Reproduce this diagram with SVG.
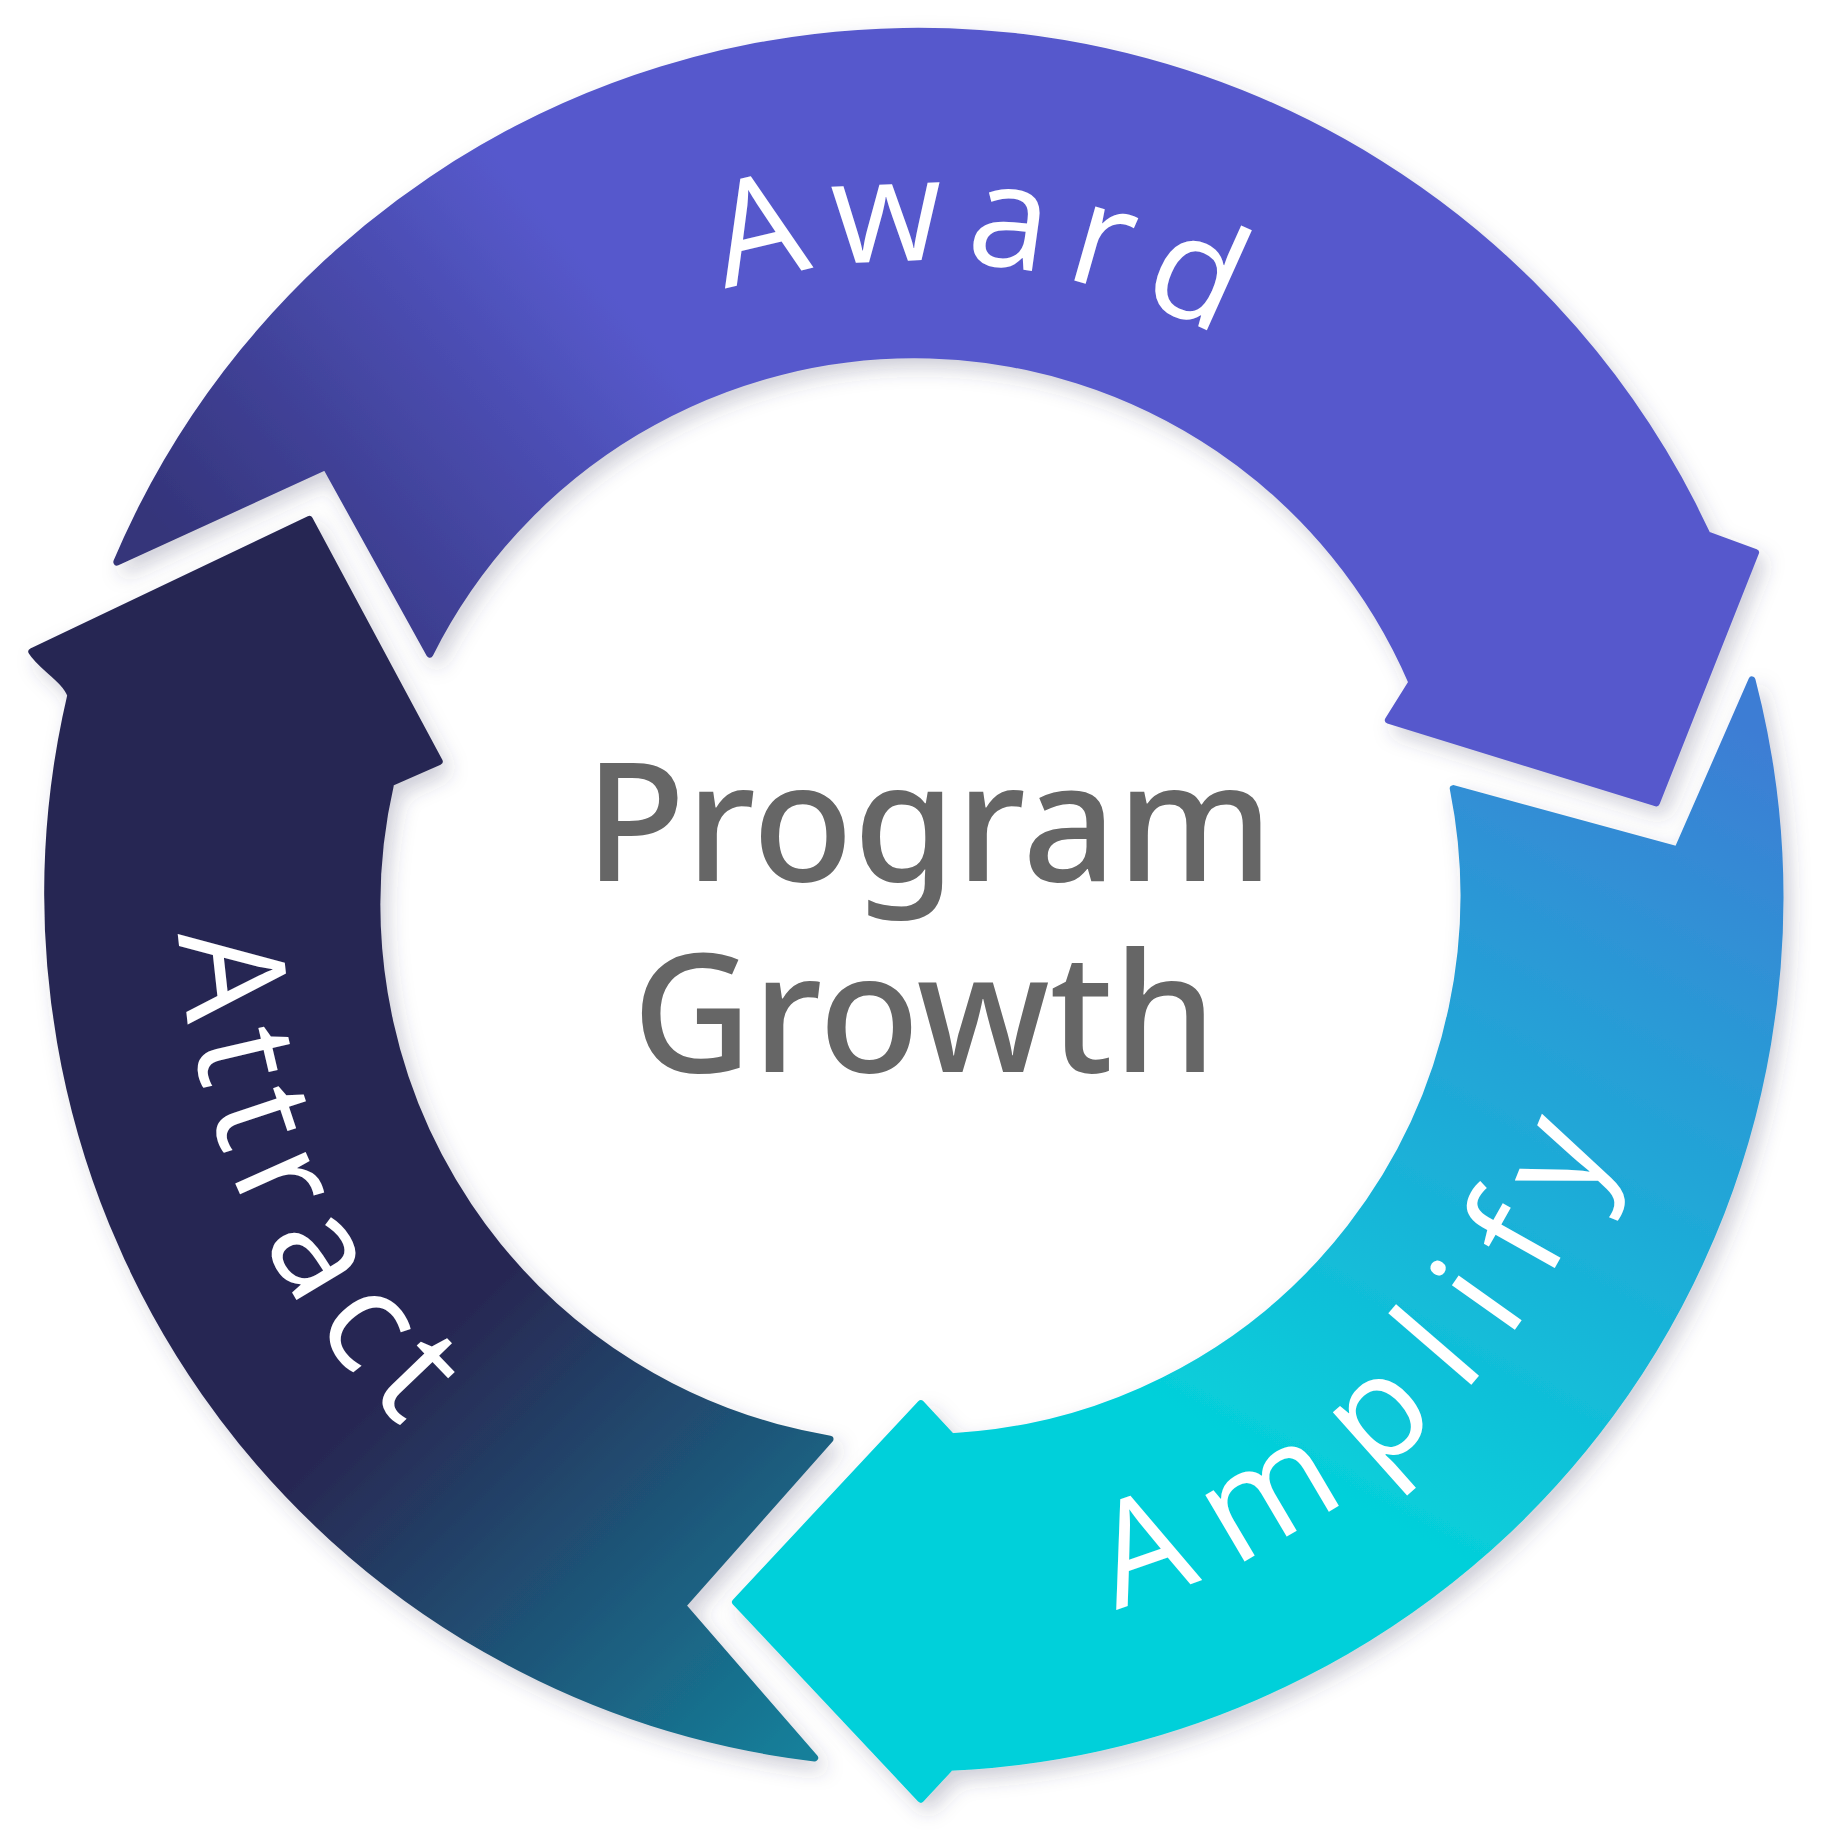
<svg xmlns="http://www.w3.org/2000/svg" width="1824" height="1842" viewBox="0 0 1824 1842">
<defs>
<filter id="sh" x="-10%" y="-10%" width="120%" height="120%"><feDropShadow dx="6" dy="8" stdDeviation="8" flood-color="#3a3a60" flood-opacity="0.25"/></filter>
<linearGradient id="gAward" gradientUnits="userSpaceOnUse" x1="200" y1="520" x2="520" y2="250"><stop offset="0" stop-color="#34347A"/><stop offset="1" stop-color="#5659CC"/></linearGradient>
<linearGradient id="gAmp" gradientUnits="userSpaceOnUse" x1="1450" y1="600" x2="1100" y2="1250"><stop offset="0" stop-color="#3D7DD4"/><stop offset="1" stop-color="#05D0DA"/></linearGradient>
<linearGradient id="gAtt" gradientUnits="userSpaceOnUse" x1="380" y1="1130" x2="700" y2="1460"><stop offset="0" stop-color="#282853"/><stop offset="1" stop-color="#157F9A"/></linearGradient>
<path id="pTop" d="M236,761 A540,540 0 0 1 1316,761"/>
<path id="pBot" d="M151,761 A625,625 0 0 0 1401,761"/>
<style>
.lbl{font-family:"Open Sans","Noto Sans",sans-serif;font-size:122px;fill:#fff;font-weight:500}
.ctr{font-family:"Noto Sans","Open Sans",sans-serif;font-size:140px;fill:#666;font-weight:500;text-anchor:middle}
</style>
</defs>
<g transform="scale(1.18058)">
<g id="award" filter="url(#sh)">
<path fill="url(#gAward)" stroke="url(#gAward)" stroke-width="6" stroke-linejoin="round" d="M99,476 A737,737 0 0 1 1446,453 L1487,468 L1403,680 L1176,610 L1196,578 A459,459 0 0 0 364,554 L276,395 Z"/>
<text class="lbl"><textPath href="#pTop" startOffset="53%" text-anchor="middle" textLength="430" lengthAdjust="spacing">Award</textPath></text>
</g>
<g id="amplify" filter="url(#sh)">
<path fill="url(#gAmp)" stroke="url(#gAmp)" stroke-width="6" stroke-linejoin="round" d="M1484,576 A737,737 0 0 1 805,1497 L780,1524 L623,1357 L780,1189 L806,1217 A459,459 0 0 0 1231,668 L1421,720 Z"/>
<text class="lbl"><textPath href="#pBot" startOffset="74%" text-anchor="middle" textLength="600" lengthAdjust="spacing">Amplify</textPath></text>
</g>
<g id="attract" filter="url(#sh)">
<path fill="url(#gAtt)" stroke="url(#gAtt)" stroke-width="6" stroke-linejoin="round" d="M690,1489 A737,737 0 0 1 60,589 C55,575 35,565 27,552 L262,440 L372,645 L331,663 A459,459 0 0 0 703,1219 L578,1360 Z"/>
<text class="lbl"><textPath href="#pBot" startOffset="13.5%" text-anchor="middle" textLength="470" lengthAdjust="spacing">Attract</textPath></text>
</g>
<g id="center">
<text class="ctr" x="787" y="746">Program</text>
<text class="ctr" x="783" y="908">Growth</text>
</g>
<g id="connectors"/>
</g>
</svg>
